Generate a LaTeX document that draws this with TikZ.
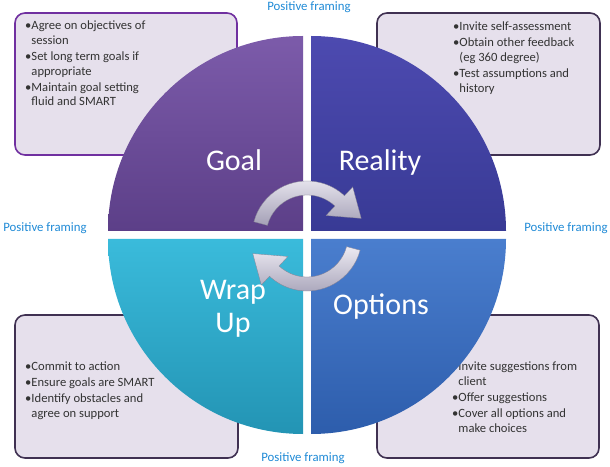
\documentclass[tikz,border=0pt]{standalone}
\usepackage{fontspec}
\setmainfont{Carlito}
\definecolor{goaltop}{HTML}{7C5BAA}
\definecolor{goalbottom}{HTML}{5C3F88}
\definecolor{realtop}{HTML}{4D4AB0}
\definecolor{realbottom}{HTML}{383A95}
\definecolor{wraptop}{HTML}{3ABBDB}
\definecolor{wrapbottom}{HTML}{2394B4}
\definecolor{opttop}{HTML}{4A7ECE}
\definecolor{optbottom}{HTML}{2D5DAC}
\definecolor{boxfill}{HTML}{E6E0EC}
\definecolor{goaledge}{HTML}{7030A0}
\definecolor{darkedge}{HTML}{403152}
\definecolor{notetext}{HTML}{333333}
\definecolor{framingblue}{HTML}{1F8AD6}
\definecolor{turntop}{HTML}{ECEAF2}
\definecolor{turnbottom}{HTML}{A4A0B6}
\tikzstyle{note} = [line width=1.6pt, rounded corners=10pt, fill=boxfill]
\tikzstyle{bullets} = [inner sep=0pt, anchor=north west, align=left, text=notetext, font=\fontsize{12.6}{14.8}\selectfont]

\begin{document}
\begin{tikzpicture}[x=1pt, y=1pt,
			quad/.style={white, inner sep=0pt, font=\fontsize{30}{33}\selectfont},
			framing/.style={text=framingblue, font=\fontsize{12.8}{14}\selectfont},
			turn/.style={draw=turnbottom!80!black, line width=0.3pt, top color=turntop, bottom color=turnbottom}]
			\useasboundingbox (0,0) rectangle (610,466);
			
			% notes behind the wheel
			\draw[note, draw=goaledge] (15,311) rectangle (237,453);
			\draw[note, draw=darkedge] (377,311) rectangle (600,453);
			\draw[note, draw=darkedge] (15,8) rectangle (238,151);
			\draw[note, draw=darkedge] (377,8) rectangle (599,151);
			
			\node[bullets] (goalnotes) at (25,445) {•Agree on objectives of\\\hphantom{•}session\\[1pt]•Set long term goals if\\\hphantom{•}appropriate\\[1pt]•Maintain goal setting\\\hphantom{•}fluid and SMART};
			\node[bullets] (realnotes) at (453,444) {•Invite self-assessment\\[1pt]•Obtain other feedback\\\hphantom{•}(eg 360 degree)\\[1pt]•Test assumptions and\\\hphantom{•}history};
			\node[bullets] (wrapnotes) at (25,104) {•Commit to action\\[1pt]•Ensure goals are SMART\\[1pt]•Identify obstacles and\\\hphantom{•}agree on support};
			\node[bullets] (optnotes) at (452,104) {•Invite suggestions from\\\hphantom{•}client\\[1pt]•Offer suggestions\\[1pt]•Cover all options and\\\hphantom{•}make choices};
			
			% the wheel
			\shade[top color=goaltop, bottom color=goalbottom] (303,235) -- (303,430) arc[start angle=90, end angle=180, radius=195] -- cycle;
			\shade[top color=realtop, bottom color=realbottom] (311,235) -- (506,235) arc[start angle=0, end angle=90, radius=195] -- cycle;
			\shade[top color=wraptop, bottom color=wrapbottom] (303,227) -- (108,227) arc[start angle=180, end angle=270, radius=195] -- cycle;
			\shade[top color=opttop, bottom color=optbottom] (311,227) -- (311,32) arc[start angle=270, end angle=360, radius=195] -- cycle;
			
			\node[quad, anchor=base] (goal) at (234,295) {Goal};
			\node[quad, anchor=base] (reality) at (380,295) {Reality};
			\node[quad, anchor=north, align=center] (wrapup) at (233,186) {Wrap\\Up};
			\node[quad, anchor=base] (options) at (381,151) {Options};
			
			% turning arrows
			\begin{scope}[shift={(307,230)}]
				\path[turn] (165:55) arc[start angle=165, end angle=47, radius=55] -- (47:67) -- (18:57) -- (47:28) -- (47:41) arc[start angle=47, end angle=165, radius=41] -- cycle;
				\path[turn] (345:55) arc[start angle=345, end angle=227, radius=55] -- (227:67) -- (198:57) -- (227:28) -- (227:41) arc[start angle=227, end angle=345, radius=41] -- cycle;
			\end{scope}
			
			\node[framing] (pftop) at (309,459) {Positive framing};
			\node[framing] (pfleft) at (45,238) {Positive framing};
			\node[framing] (pfright) at (566,238) {Positive framing};
			\node[framing] (pfbottom) at (303,8) {Positive framing};
		\end{tikzpicture}
\end{document}
